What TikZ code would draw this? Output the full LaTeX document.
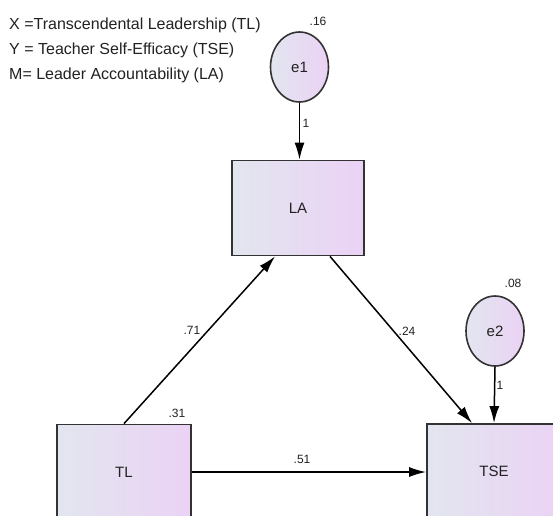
\documentclass[tikz,border=0pt]{standalone}
\usepackage{fontspec}
\setmainfont{Liberation Sans}
\usetikzlibrary{arrows.meta,shapes.geometric,calc}
\definecolor{boxleft}{HTML}{E2E6EF}
\definecolor{boxright}{HTML}{EBD2F5}
\definecolor{edgecol}{HTML}{333333}
\definecolor{txtcol}{HTML}{222222}
\tikzset{
  varbox/.style={draw=edgecol, line width=1.8pt, left color=boxleft, right color=boxright,
    minimum width=134pt, minimum height=95pt, inner sep=0pt, font=\fontsize{15}{15}\selectfont, text=txtcol},
  errnode/.style={ellipse, draw=edgecol, line width=1.6pt, shading=axis, shading angle=135,
    left color=boxleft, right color=boxright, minimum width=58pt, minimum height=70pt, inner sep=0pt,
    font=\fontsize{15}{15}\selectfont, text=txtcol},
  path/.style={draw=black, line width=1.5pt, -{Latex[length=17pt,width=10pt]}},
  coef/.style={font=\fontsize{12}{12}\selectfont, text=txtcol, inner sep=0pt},
  legend/.style={font=\fontsize{16}{16}\selectfont, text=txtcol, anchor=west, inner sep=0pt}
}
\begin{document}
\begin{tikzpicture}[x=1pt,y=-1pt]
\useasboundingbox (0,0) rectangle (553,515);
\clip (0,0) rectangle (553,515);
\fill[white] (0,0) rectangle (553,515);
\node[legend] (l1) at (9,25) {X =Transcendental Leadership (TL)};
\node[legend] (l2) at (9,50) {Y = Teacher Self-Efficacy (TSE)};
\node[legend] (l3) at (9,75) {M= Leader Accountability (LA)};

\node[errnode] (e1) at (299.5,67) {e1};
\node[varbox, minimum width=132pt] (LA) at (298,208) {LA};
\node[errnode] (e2) at (495,331) {e2};
\node[varbox] (TL) at (124,472) {TL};
\node[varbox] (TSE) at (494,471.5) {TSE};

\draw[path] (e1.south) -- (e1.south |- LA.north);
\draw[path] (TL.north) -- ([xshift=-23pt]LA.south);
\draw[path] ([xshift=32pt]LA.south) -- ([xshift=-22pt]TSE.north);
\draw[path] (e2.south) -- ([xshift=-1pt]e2.south |- TSE.north);
\draw[path] (TL.east) -- (TL.east -| TSE.west);

\node[coef] (c16) at (318,21) {.16};
\node[coef] (c1a) at (306,123) {1};
\node[coef] (c71) at (192,330) {.71};
\node[coef] (c24) at (407,331) {.24};
\node[coef] (c08) at (513,283) {.08};
\node[coef] (c1b) at (500,385) {1};
\node[coef] (c31) at (177,413) {.31};
\node[coef] (c51) at (302,459) {.51};
\end{tikzpicture}
\end{document}
